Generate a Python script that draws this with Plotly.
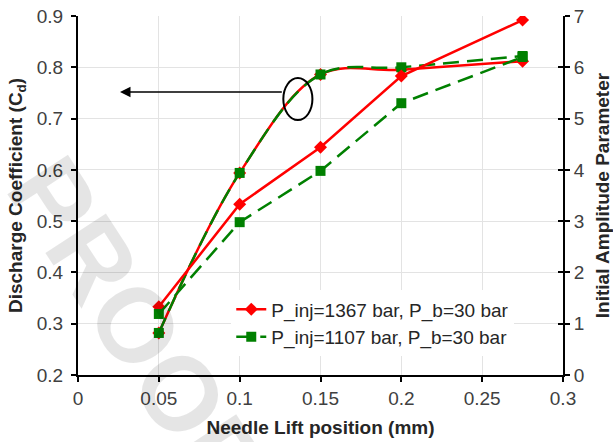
import plotly.graph_objects as go

# Needle lift positions (mm)
needle_lift = [0.05, 0.1, 0.15, 0.2, 0.275]

# Discharge coefficient (left axis)
cd_1367 = [0.282, 0.594, 0.786, 0.795, 0.812]
cd_1107 = [0.282, 0.594, 0.786, 0.800, 0.822]

# Initial amplitude parameter (right axis)
amp_1367 = [1.33, 3.33, 4.44, 5.83, 6.92]
amp_1107 = [1.19, 2.98, 3.98, 5.30, 6.20]

x_ticks = [0, 0.05, 0.1, 0.15, 0.2, 0.25, 0.3]
name_1367 = "P_inj=1367 bar, P_b=30 bar"
name_1107 = "P_inj=1107 bar, P_b=30 bar"

RED = "#ff0000"
GREEN = "#008000"
FONT = "Liberation Sans, Arial, sans-serif"
TICK_COLOR = "#404040"
TITLE_COLOR = "#262626"

fig = go.Figure()

# Amplitude lines (straight segments)
fig.add_trace(go.Scatter(
    x=needle_lift, y=amp_1367, yaxis="y2", mode="lines+markers",
    line=dict(color=RED, width=2.5),
    marker=dict(symbol="diamond", size=10, color=RED),
    name=name_1367, showlegend=True))
fig.add_trace(go.Scatter(
    x=needle_lift, y=amp_1107, yaxis="y2", mode="lines+markers",
    line=dict(color=GREEN, width=2.5, dash="16px,8px"),
    marker=dict(symbol="square", size=10, color=GREEN),
    name=name_1107, showlegend=True))

# Discharge coefficient curves (smoothed)
fig.add_trace(go.Scatter(
    x=needle_lift, y=cd_1367, mode="lines+markers",
    line=dict(color=RED, width=2.5, shape="spline", smoothing=1),
    marker=dict(symbol="diamond", size=10, color=RED),
    showlegend=False))
fig.add_trace(go.Scatter(
    x=needle_lift, y=cd_1107, mode="lines+markers",
    line=dict(color=GREEN, width=2.5, dash="16px,8px", shape="spline", smoothing=1),
    marker=dict(symbol="square", size=10, color=GREEN),
    showlegend=False))

axis_font = dict(family=FONT, size=19, color=TICK_COLOR)
title_font = dict(family=FONT, size=19, color=TITLE_COLOR, weight="bold")

fig.update_layout(
    width=613, height=442,
    margin=dict(l=78, r=50, t=16, b=67),
    paper_bgcolor="white", plot_bgcolor="white",
    font=dict(family=FONT),
    xaxis=dict(
        range=[0, 0.3], tickvals=x_ticks, showgrid=True, gridcolor="#e3e3e3", gridwidth=1,
        showline=True, linecolor="black", linewidth=2, ticks="outside", ticklen=5,
        tickcolor="black", tickwidth=1.5, tickfont=axis_font, zeroline=False,
        automargin=False,
        title=dict(text="Needle Lift position (mm)", font=title_font, standoff=13)),
    yaxis=dict(
        range=[0.2, 0.9], dtick=0.1, tickformat=".1f", showgrid=True, gridcolor="#e3e3e3",
        gridwidth=1, showline=True, linecolor="black", linewidth=2, ticks="outside",
        ticklen=5, tickcolor="black", tickwidth=1.5, tickfont=axis_font, zeroline=False,
        ticklabelstandoff=4, automargin=False,
        title=dict(text="Discharge Coefficient (C<sub>d</sub>)", font=title_font, standoff=9)),
    yaxis2=dict(
        range=[0, 7], dtick=1, overlaying="y", side="right", showgrid=False,
        showline=True, linecolor="black", linewidth=2, ticks="outside", ticklen=5,
        tickcolor="black", tickwidth=1.5, tickfont=axis_font, zeroline=False,
        automargin=False,
        title=dict(text="Initial Amplitude Parameter", font=title_font, standoff=14)),
    # inner half of the right-axis ticks
    yaxis3=dict(
        range=[0, 7], dtick=1, overlaying="y", side="right", showgrid=False,
        showline=False, ticks="inside", ticklen=5, tickcolor="black", tickwidth=1.5,
        showticklabels=False, zeroline=False, automargin=False),
    legend=dict(
        x=0.316, y=0.236, xanchor="left", yanchor="top", bgcolor="white",
        font=dict(family=FONT, size=19, color=TITLE_COLOR), traceorder="normal",
        itemwidth=30, tracegroupgap=0),
)

# anchor trace for the inner-tick axis
fig.add_trace(go.Scatter(x=[None], y=[None], yaxis="y3", showlegend=False, hoverinfo="skip"))

# Arrow pointing from the circled curve to the left axis
fig.add_annotation(
    x=0.026, y=0.752, ax=0.127, ay=0.752, xref="x", yref="y", axref="x", ayref="y",
    showarrow=True, arrowhead=2, arrowsize=1.4, arrowwidth=1.5, arrowcolor="black", text="")
fig.add_shape(type="circle", xref="x", yref="y", x0=0.127, x1=0.145, y0=0.697, y1=0.779,
              line=dict(color="black", width=2))

# Watermark
fig.add_annotation(
    text="PROOF", xref="paper", yref="paper", x=0.118, y=0.14,
    xanchor="center", yanchor="middle", showarrow=False, textangle=57,
    font=dict(family=FONT, size=105, color="rgba(0,0,0,0.1)", weight="bold"))

fig.write_html("out.html")
